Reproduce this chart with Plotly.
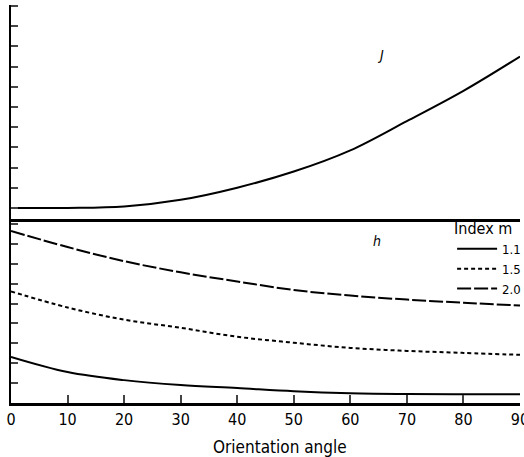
import plotly.graph_objects as go
from plotly.subplots import make_subplots

angle = [0, 10, 20, 30, 40, 50, 60, 70, 80, 90]
J_vals = [1.0, 1.0, 1.07, 1.4, 2.0, 2.8, 3.85, 5.3, 6.8, 8.5]
h_m11 = [2.32, 1.56, 1.15, 0.9, 0.75, 0.59, 0.49, 0.45, 0.44, 0.44]
h_m15 = [5.61, 4.8, 4.19, 3.78, 3.33, 3.03, 2.77, 2.62, 2.52, 2.42]
h_m20 = [8.65, 7.84, 7.13, 6.57, 6.11, 5.68, 5.4, 5.2, 5.04, 4.9]
index_labels = ["1.1", "1.5", "2.0"]
x_ticks = [0, 10, 20, 30, 40, 50, 60, 70, 80, 90]
top_ticks = list(range(1, 12))
bot_ticks = list(range(1, 10))

FONT = "DejaVu Sans Condensed, DejaVu Sans, sans-serif"

fig = make_subplots(rows=2, cols=1, shared_xaxes=True, vertical_spacing=0.0)

fig.add_trace(go.Scatter(x=angle, y=J_vals, mode="lines", line=dict(color="black", width=2, shape="spline"),
                         showlegend=False), row=1, col=1)

styles = ["solid", "4px,3px", "14px,3px"]
for lab, vals, dsh in zip(index_labels, [h_m11, h_m15, h_m20], styles):
    fig.add_trace(go.Scatter(x=angle, y=vals, mode="lines", name=lab,
                             line=dict(color="black", width=2, dash=dsh, shape="spline")), row=2, col=1)

H = 457
W = 524
ml, mr, mt, mb = 11, 4, 5, 54
ph = H - mt - mb
pw = W - ml - mr

def frac(py):
    return (H - mb - py) / ph

fig.update_layout(
    width=W, height=H,
    margin=dict(l=ml, r=mr, t=mt, b=mb, autoexpand=False),
    paper_bgcolor="white", plot_bgcolor="white",
    font=dict(family=FONT, size=15, color="black"),
    legend=dict(title=dict(text="Index m", font=dict(size=16)), x=1.012, xanchor="right",
                y=frac(213), yanchor="top", bgcolor="rgba(0,0,0,0)", font=dict(size=13),
                tracegroupgap=0, itemwidth=40),
    showlegend=True,
)

fig.update_yaxes(domain=[frac(219), 1.0], range=[0.45, 11.05], tickvals=top_ticks, ticks="inside",
                 ticklen=7, tickwidth=1.5, showticklabels=False, showline=True, linewidth=2,
                 linecolor="black", showgrid=False, zeroline=False, automargin=False, row=1, col=1)
fig.update_yaxes(domain=[0, frac(221)], range=[0, 9.15], tickvals=bot_ticks, ticks="inside",
                 ticklen=7, tickwidth=1.5, showticklabels=False, showline=True, linewidth=2,
                 linecolor="black", showgrid=False, zeroline=False, automargin=False, row=2, col=1)
fig.update_xaxes(range=[0, 90], showline=True, linewidth=3, linecolor="black", ticks="",
                 showticklabels=False, showgrid=False, zeroline=False, automargin=False, row=1, col=1)
fig.update_xaxes(range=[0, 90], tickvals=x_ticks, ticktext=[str(t) for t in x_ticks], ticks="inside",
                 ticklen=8, tickwidth=1.5, showline=True, linewidth=2.5, linecolor="black",
                 showgrid=False, zeroline=False, showticklabels=True, automargin=False,
                 ticklabeloverflow="allow", tickfont=dict(size=16), row=2, col=1)

fig.add_annotation(x=(279.5 - ml) / pw, y=(H - mb - 435) / ph, xref="paper", yref="paper",
                   text="Orientation angle", showarrow=False, xanchor="center", yanchor="top",
                   font=dict(size=17))
fig.add_annotation(x=65.3, y=8.55, xref="x", yref="y", text="<i>J</i>", showarrow=False,
                   font=dict(size=14))
fig.add_annotation(x=64.8, y=8.14, xref="x2", yref="y2", text="<i>h</i>", showarrow=False,
                   font=dict(size=14))

fig.write_html("out.html", config={"displayModeBar": False},
               post_script="document.body.style.margin='0';document.body.style.padding='0';")
